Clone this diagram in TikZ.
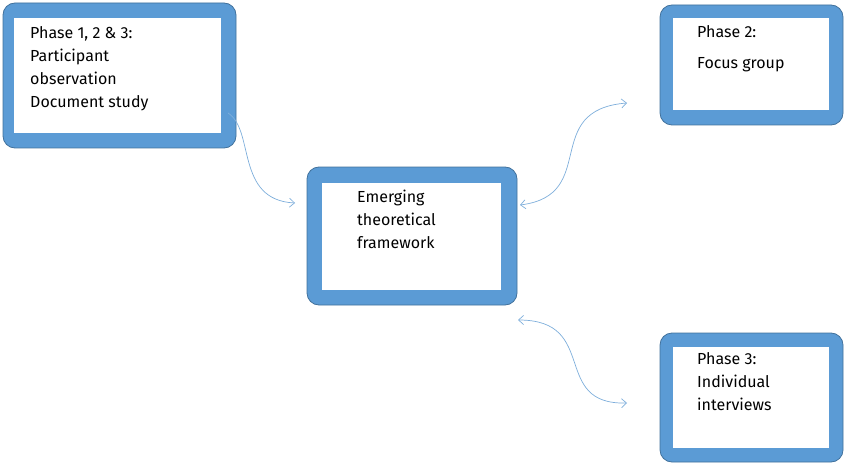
\documentclass[tikz,border=0pt]{standalone}
\usepackage{fontspec}
\setmainfont{Fira Sans}
\usetikzlibrary{arrows.meta}
\definecolor{bfill}{HTML}{5B9BD5}
\definecolor{bline}{HTML}{41719C}
\definecolor{arr}{HTML}{7EAEDB}
\tikzset{
 outerbox/.style={fill=bfill,draw=bline,line width=0.8pt,rounded corners=12pt},
 innerbox/.style={fill=white,draw=none},
 txt/.style={anchor=north west,align=left,font=\fontsize{16}{23}\selectfont,inner sep=0pt},
 conn/.style={draw=arr,line width=0.7pt},
}
\begin{document}
\begin{tikzpicture}[x=1pt,y=-1pt]
\useasboundingbox (0,0) rectangle (850,465);
% box 1
\path[outerbox] (3,3) rectangle (236,148);
\path[innerbox] (14,18) rectangle (221,133);
\node[txt] (t1) at (30,26) {Phase 1, 2 \& 3:\\Participant\\observation\\Document study};
% box 2
\path[outerbox] (307,167) rectangle (517,305);
\path[innerbox] (322,183) rectangle (501,290);
\node[txt] (t2) at (357,190) {Emerging\\theoretical\\framework};
% box 3
\path[outerbox] (660,5) rectangle (843,125);
\path[innerbox] (673,18) rectangle (829,110);
\node[txt] (t3) at (697,25) {Phase 2:\\[8pt]Focus group};
% box 4
\path[outerbox] (660,333) rectangle (843,462);
\path[innerbox] (673,347) rectangle (829,448);
\node[txt] (t4) at (697,352) {Phase 3:\\Individual\\interviews};
% connectors
\coordinate (a1) at (228,113);
\coordinate (a2) at (295,203);
\coordinate (b1) at (520,205);
\coordinate (b2) at (627,103);
\coordinate (c1) at (518,320);
\coordinate (c2) at (627,403);
\draw[conn,-{Straight Barb[length=5pt,width=9pt]}] (a1) .. controls (255,130) and (235,200) .. (a2);
\draw[conn,{Straight Barb[length=5pt,width=9pt]}-{Straight Barb[length=5pt,width=9pt]}] (b1) .. controls (600,195) and (540,110) .. (b2);
\draw[conn,{Straight Barb[length=5pt,width=9pt]}-{Straight Barb[length=5pt,width=9pt]}] (c1) .. controls (600,320) and (550,405) .. (c2);
\end{tikzpicture}
\end{document}
